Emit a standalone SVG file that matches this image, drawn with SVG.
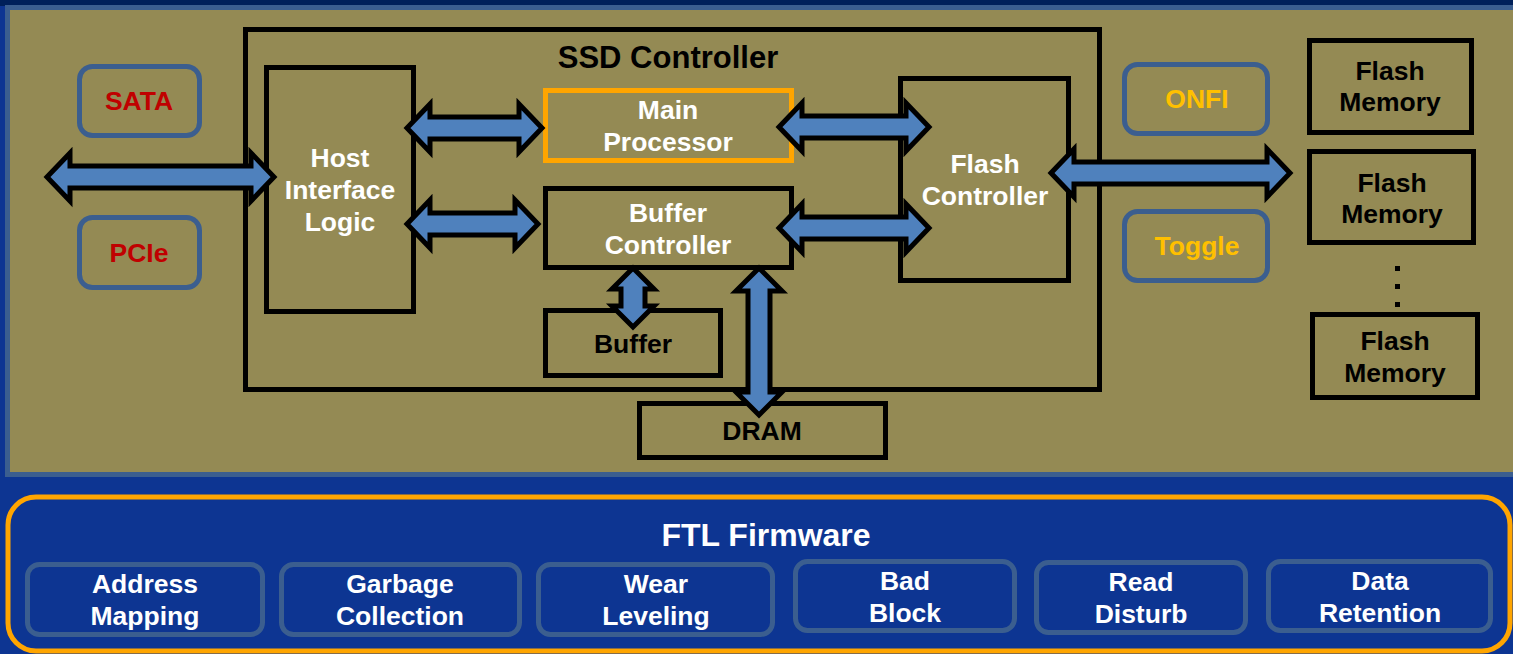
<svg xmlns="http://www.w3.org/2000/svg" width="1513" height="654" viewBox="0 0 1513 654">
<style>
text{font-family:"Liberation Sans",Arial,sans-serif;font-weight:bold;font-size:26.5px;text-anchor:middle}
.w{fill:#ffffff}.k{fill:#000000}.red{fill:#c00000}.yel{fill:#ffc000}
.box{fill:none;stroke:#000;stroke-width:5}
.pill{fill:none;stroke:#3b5e8f;stroke-width:5}
.sub{fill:#0d3592;stroke:#3b5e8f;stroke-width:5}
.arr{fill:#4f81bd;stroke:#000;stroke-width:5;stroke-linejoin:miter;stroke-miterlimit:10}
</style>
<rect x="0" y="0" width="1513" height="654" fill="#0d3592"/>
<rect x="0" y="0" width="1513" height="6" fill="#00205a"/>
<rect x="7.5" y="7.5" width="1510" height="467" fill="#948a54" stroke="#3b5e8f" stroke-width="5"/>
<g id="ftl">
<rect x="8" y="497" width="1502" height="154" rx="28" fill="#0d3592" stroke="#ffa500" stroke-width="5"/>
<text class="w" x="766" y="546" style="font-size:32px">FTL Firmware</text>
</g>
<g id="ftl-address"><rect class="sub" x="27.5" y="564.5" width="235" height="70" rx="12"/><text class="w" x="145" y="593">Address</text><text class="w" x="145" y="625">Mapping</text></g>
<g id="ftl-garbage"><rect class="sub" x="281.5" y="564.5" width="238" height="70" rx="12"/><text class="w" x="400" y="593">Garbage</text><text class="w" x="400" y="625">Collection</text></g>
<g id="ftl-wear"><rect class="sub" x="538.5" y="564.5" width="234" height="70" rx="12"/><text class="w" x="656" y="593">Wear</text><text class="w" x="656" y="625">Leveling</text></g>
<g id="ftl-bad"><rect class="sub" x="795.5" y="561.5" width="219" height="69" rx="12"/><text class="w" x="905" y="590">Bad</text><text class="w" x="905" y="622">Block</text></g>
<g id="ftl-read"><rect class="sub" x="1036.5" y="562.5" width="209" height="70" rx="12"/><text class="w" x="1141" y="591">Read</text><text class="w" x="1141" y="623">Disturb</text></g>
<g id="ftl-data"><rect class="sub" x="1268.5" y="561.5" width="222" height="69" rx="12"/><text class="w" x="1380" y="590">Data</text><text class="w" x="1380" y="622">Retention</text></g>

<g id="ssd-controller"><rect class="box" x="245.5" y="29.5" width="854" height="360"/><text class="k" x="668" y="68" style="font-size:31px">SSD Controller</text></g>
<g id="sata"><rect class="pill" x="79.5" y="66.5" width="120" height="69" rx="13"/><text class="red" x="139" y="110">SATA</text></g>
<g id="pcie"><rect class="pill" x="79.5" y="217.5" width="120" height="70" rx="13"/><text class="red" x="139" y="262">PCIe</text></g>
<g id="onfi"><rect class="pill" x="1124.5" y="64.5" width="143" height="69" rx="13"/><text class="yel" x="1197" y="108">ONFI</text></g>
<g id="toggle"><rect class="pill" x="1124.5" y="211.5" width="143" height="69" rx="13"/><text class="yel" x="1197" y="255">Toggle</text></g>
<g id="host-interface"><rect class="box" x="266.5" y="67.5" width="147" height="244"/><text class="w" x="340" y="167">Host</text><text class="w" x="340" y="199">Interface</text><text class="w" x="340" y="231">Logic</text></g>
<g id="main-processor"><rect x="545.5" y="90.5" width="246" height="70" fill="none" stroke="#ffa500" stroke-width="5"/><text class="w" x="668" y="119">Main</text><text class="w" x="668" y="151">Processor</text></g>
<g id="buffer-controller"><rect class="box" x="545.5" y="188.5" width="246" height="79"/><text class="w" x="668" y="222">Buffer</text><text class="w" x="668" y="254">Controller</text></g>
<g id="buffer"><rect class="box" x="545.5" y="310.5" width="175" height="65"/><text class="k" x="633" y="353">Buffer</text></g>
<g id="dram"><rect class="box" x="639.5" y="403.5" width="246" height="54"/><text class="k" x="762" y="440">DRAM</text></g>
<g id="flash-controller"><rect class="box" x="900.5" y="78.5" width="168" height="202"/><text class="w" x="985" y="173">Flash</text><text class="w" x="985" y="205">Controller</text></g>
<g id="flash-memory-1"><rect class="box" x="1309.5" y="40.5" width="162" height="92"/><text class="k" x="1390" y="80">Flash</text><text class="k" x="1390" y="111">Memory</text></g>
<g id="flash-memory-2"><rect class="box" x="1309.5" y="151.5" width="164" height="91"/><text class="k" x="1392" y="192">Flash</text><text class="k" x="1392" y="223">Memory</text></g>
<g id="flash-memory-3"><rect class="box" x="1312.5" y="314.5" width="165" height="83"/><text class="k" x="1395" y="350">Flash</text><text class="k" x="1395" y="382">Memory</text></g>
<g id="dots" fill="#000"><rect x="1395" y="266" width="5" height="5"/><rect x="1395" y="284" width="5" height="5"/><rect x="1395" y="302" width="5" height="5"/></g>

<g id="connectors">
<path class="arr" d="M47,177 L70,153 L70,166 L251,166 L251,153 L274,177 L251,201 L251,188 L70,188 L70,201 Z"/>
<path class="arr" d="M407,128 L430,104 L430,117 L519,117 L519,104 L542,128 L519,152 L519,139 L430,139 L430,152 Z"/>
<path class="arr" d="M407,224 L430,200 L430,213 L515,213 L515,200 L538,224 L515,248 L515,235 L430,235 L430,248 Z"/>
<path class="arr" d="M779,127 L802,103 L802,116 L906,116 L906,103 L929,127 L906,151 L906,138 L802,138 L802,151 Z"/>
<path class="arr" d="M779,228 L802,204 L802,217 L906,217 L906,204 L929,228 L906,252 L906,239 L802,239 L802,252 Z"/>
<path class="arr" d="M1051,173 L1074,149 L1074,162 L1267,162 L1267,149 L1290,173 L1267,197 L1267,184 L1074,184 L1074,197 Z"/>
<path class="arr" d="M633,268 L654,289 L645,289 L645,306 L654,306 L633,327 L612,306 L621,306 L621,289 L612,289 Z"/>
<path class="arr" d="M759,268 L782,291 L770,291 L770,392 L782,392 L759,415 L736,392 L748,392 L748,291 L736,291 Z"/>
</g>
</svg>
